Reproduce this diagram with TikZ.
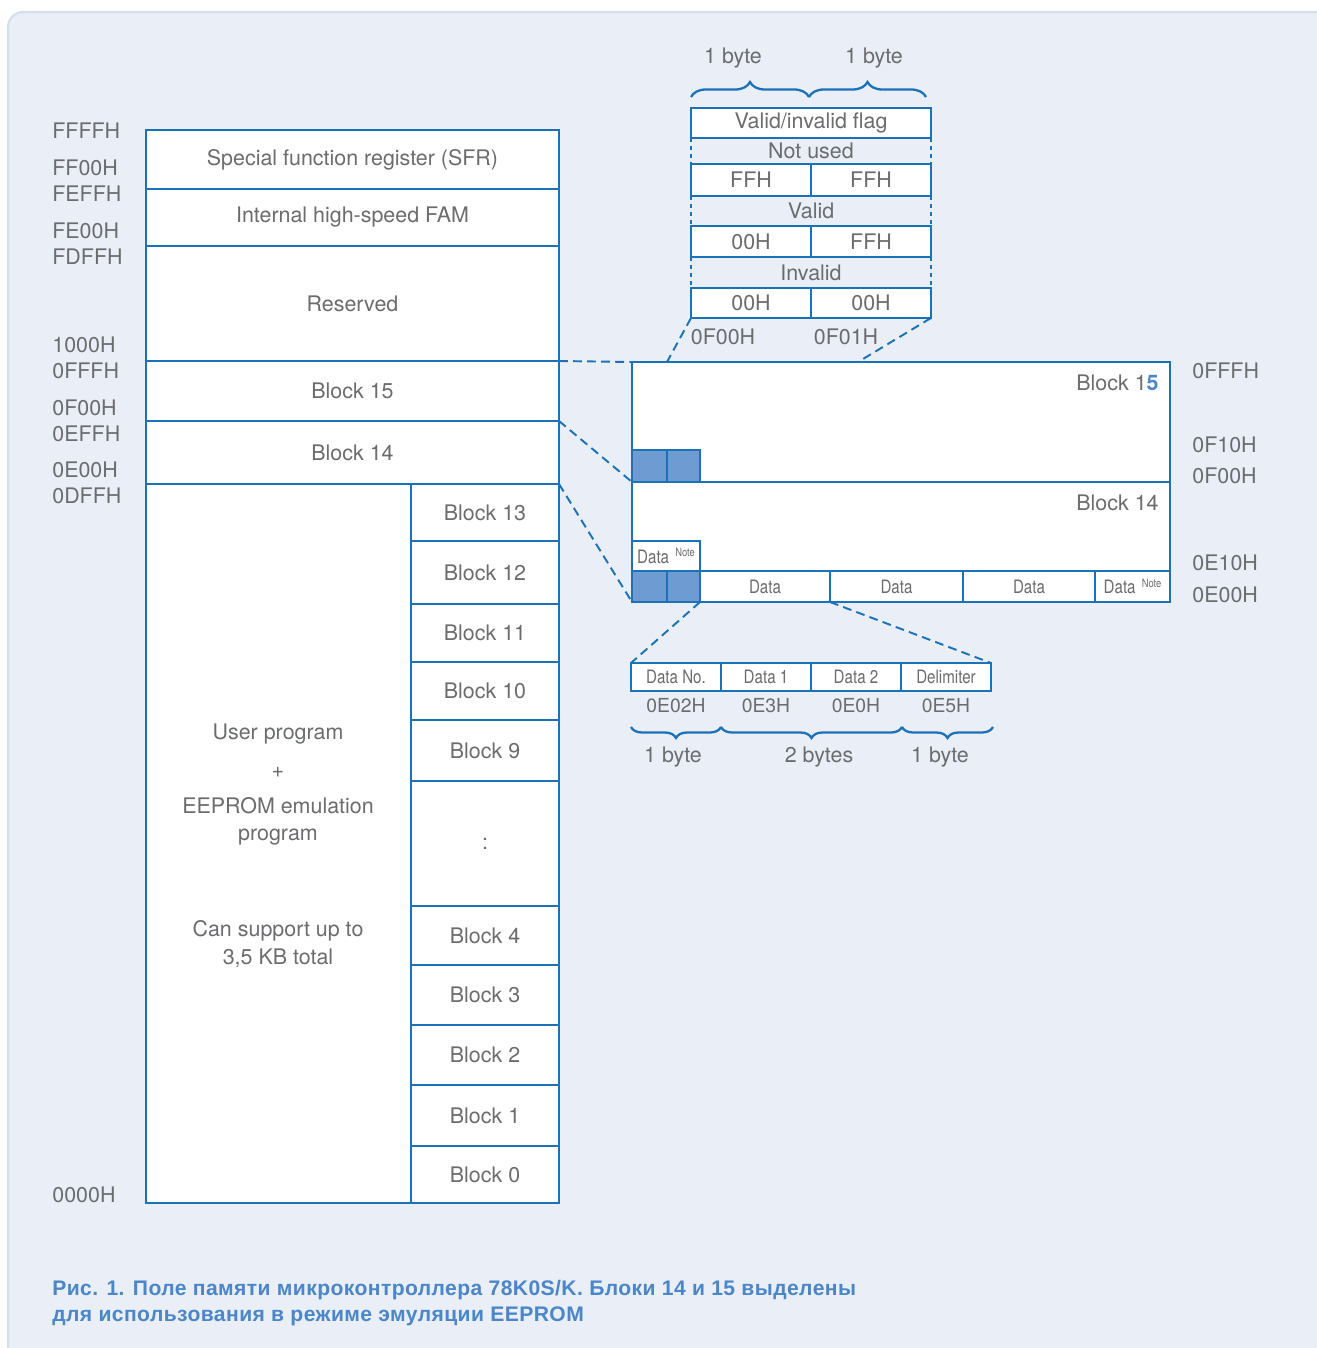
\documentclass[tikz,border=0pt]{standalone}
\usepackage{fontspec}
\setmainfont{TeX Gyre Heros}
\newfontfamily\capfont[LetterSpace=2]{Liberation Sans}
\newfontfamily\narrowfont[FakeStretch=0.82]{TeX Gyre Heros}
\usepackage{tikz}
\usetikzlibrary{decorations.pathreplacing,calc}
\definecolor{lineblue}{HTML}{1B72B8}
\definecolor{txtgray}{HTML}{6B6C6E}
\definecolor{panelbg}{HTML}{E9EEF7}
\definecolor{panelrim}{HTML}{D5DFF0}
\definecolor{shade}{HTML}{6E9BD2}
\definecolor{capblue}{HTML}{4A86C8}
\newcommand{\mainsize}{\fontsize{12.2}{14}\selectfont}
\newcommand{\smallsize}{\narrowfont\fontsize{10.5}{12}\selectfont}
\newcommand{\notetxt}{\raisebox{0.7ex}{\narrowfont\fontsize{6.5}{7}\selectfont Note}}
\tikzstyle{cell} = [draw=lineblue, fill=white, line width=1.1pt, inner sep=0pt, outer sep=0pt, anchor=north west, text=txtgray, font=\mainsize]
\tikzstyle{shaded} = [cell, fill=shade]
\tikzstyle{addr} = [text=txtgray, font=\mainsize, inner sep=0pt, anchor=west]
\tikzstyle{txt} = [text=txtgray, font=\mainsize, inner sep=0pt]
\tikzstyle{zoomline} = [draw=lineblue, line width=1.1pt, dash pattern=on 5pt off 3pt]
\tikzstyle{sideline} = [draw=lineblue, line width=1.1pt, dash pattern=on 2.5pt off 2pt]
\tikzstyle{bytebrace} = [draw=lineblue, line width=1.3pt, decorate, decoration={brace, amplitude=0.3cm}]
\tikzset{sz/.style 2 args={minimum width=#1*0.02cm, minimum height=#2*0.02cm}}
\begin{document}
\begin{tikzpicture}[x=0.02cm, y=-0.02cm]
\useasboundingbox (0,0) rectangle (1317,1348);
\fill[panelbg, draw=panelrim, line width=1.2pt, rounded corners=0.3cm] (8,12) rectangle (1345,1375);

% memory map
\node[cell, sz={413}{59}] (sfr) at (146,130) {Special function register (SFR)};
\node[cell, sz={413}{57}] (fam) at (146,189) {Internal high-speed FAM};
\node[cell, sz={413}{115}] (resv) at (146,246) {Reserved};
\node[cell, sz={413}{60}] (blk15) at (146,361) {Block 15};
\node[cell, sz={413}{63}] (blk14) at (146,421) {Block 14};
\node[cell, sz={265}{719}] (user) at (146,484) {};
\node[cell, sz={148}{57}] (b13) at (411,484) {Block 13};
\node[cell, sz={148}{63}] (b12) at (411,541) {Block 12};
\node[cell, sz={148}{58}] (b11) at (411,604) {Block 11};
\node[cell, sz={148}{58}] (b10) at (411,662) {Block 10};
\node[cell, sz={148}{61}] (b9) at (411,720) {Block 9};
\node[cell, sz={148}{125}] (bdots) at (411,781) {:};
\node[cell, sz={148}{59}] (b4) at (411,906) {Block 4};
\node[cell, sz={148}{60}] (b3) at (411,965) {Block 3};
\node[cell, sz={148}{60}] (b2) at (411,1025) {Block 2};
\node[cell, sz={148}{61}] (b1) at (411,1085) {Block 1};
\node[cell, sz={148}{57}] (b0) at (411,1146) {Block 0};
\node[txt] (usr) at (278,734) {User program};
\node[txt] (plus) at (278,772) {+};
\node[txt, align=center, font=\fontsize{12.2}{15.5}\selectfont] (emu) at (278,821) {EEPROM emulation\\program};
\node[txt, align=center, font=\fontsize{12.2}{15.5}\selectfont] (supp) at (278,944) {Can support up to\\3,5 KB total};

\node[addr] (aFFFF) at (52,131) {FFFFH};
\node[addr] (aFF00) at (52,168) {FF00H};
\node[addr] (aFEFF) at (52,194) {FEFFH};
\node[addr] (aFE00) at (52,231) {FE00H};
\node[addr] (aFDFF) at (52,257) {FDFFH};
\node[addr] (a1000) at (52,345) {1000H};
\node[addr] (a0FFF) at (52,371) {0FFFH};
\node[addr] (a0F00) at (52,408) {0F00H};
\node[addr] (a0EFF) at (52,434) {0EFFH};
\node[addr] (a0E00) at (52,470) {0E00H};
\node[addr] (a0DFF) at (52,496) {0DFFH};
\node[addr] (a0000) at (52,1195) {0000H};

% blocks 14 and 15 in detail
\node[cell, sz={538}{120}] (det15) at (632,362) {};
\node[cell, sz={538}{120}] (det14) at (632,482) {};
\node[txt, anchor=east] (t15) at (1159,383) {Block 1\textcolor{capblue}{\bfseries 5}};
\node[txt, anchor=east] (t14) at (1159,503) {Block 14};
\node[shaded, sz={35}{32}] (s15a) at (632,450) {};
\node[shaded, sz={33}{32}] (s15b) at (667,450) {};
\node[cell, sz={68}{30}, font=\smallsize, align=left] (dnote) at (632,541) {Data\,\,\notetxt};
\node[shaded, sz={35}{31}] (s14a) at (632,571) {};
\node[shaded, sz={33}{31}] (s14b) at (667,571) {};
\node[cell, sz={130}{31}, font=\smallsize] (d1) at (700,571) {Data};
\node[cell, sz={133}{31}, font=\smallsize] (d2) at (830,571) {Data};
\node[cell, sz={132}{31}, font=\smallsize] (d3) at (963,571) {Data};
\node[cell, sz={75}{31}, font=\smallsize] (d4) at (1095,571) {Data\,\,\notetxt};
\node[addr] (r0FFF) at (1192,371) {0FFFH};
\node[addr] (r0F10) at (1192,445) {0F10H};
\node[addr] (r0F00) at (1192,476) {0F00H};
\node[addr] (r0E10) at (1192,563) {0E10H};
\node[addr] (r0E00) at (1192,595) {0E00H};

% valid/invalid flag
\node[cell, sz={240}{30}] (flag) at (691,108) {Valid/invalid flag};
\node[txt] (nused) at (811,151) {Not used};
\node[cell, sz={120}{32}] (ff1) at (691,164) {FFH};
\node[cell, sz={120}{32}] (ff2) at (811,164) {FFH};
\node[txt] (valid) at (811,211) {Valid};
\node[cell, sz={120}{31}] (v1) at (691,226) {00H};
\node[cell, sz={120}{31}] (v2) at (811,226) {FFH};
\node[txt] (invalid) at (811,273) {Invalid};
\node[cell, sz={120}{30}] (i1) at (691,288) {00H};
\node[cell, sz={120}{30}] (i2) at (811,288) {00H};
\draw[sideline] (flag.south west) -- (ff1.north west);
\draw[sideline] (flag.south east) -- (ff2.north east);
\draw[sideline] (ff1.south west) -- (v1.north west);
\draw[sideline] (ff2.south east) -- (v2.north east);
\draw[sideline] (v1.south west) -- (i1.north west);
\draw[sideline] (v2.south east) -- (i2.north east);
\node[txt] (f0F00) at (723,337) {0F00H};
\node[txt] (f0F01) at (846,337) {0F01H};
\draw[bytebrace] (691,97) -- (809,97);
\draw[bytebrace] (809,97) -- (926,97);
\node[txt] (by1) at (733,58) {1 byte};
\node[txt] (by2) at (874,58) {1 byte};

% data record
\node[cell, sz={90}{28}, font=\smallsize] (dno) at (631,663) {Data No.};
\node[cell, sz={90}{28}, font=\smallsize] (dat1) at (721,663) {Data 1};
\node[cell, sz={90}{28}, font=\smallsize] (dat2) at (811,663) {Data 2};
\node[cell, sz={90}{28}, font=\smallsize] (dlim) at (901,663) {Delimiter};
\node[txt, font=\fontsize{11}{12}\selectfont] (e02) at (676,706) {0E02H};
\node[txt, font=\fontsize{11}{12}\selectfont] (e3) at (766,706) {0E3H};
\node[txt, font=\fontsize{11}{12}\selectfont] (e0) at (856,706) {0E0H};
\node[txt, font=\fontsize{11}{12}\selectfont] (e5) at (946,706) {0E5H};
\draw[bytebrace, decoration={mirror, amplitude=0.22cm}] (631,727) -- (721,727);
\draw[bytebrace, decoration={mirror, amplitude=0.22cm}] (721,727) -- (902,727);
\draw[bytebrace, decoration={mirror, amplitude=0.22cm}] (902,727) -- (993,727);
\node[txt] (nb1) at (673,757) {1 byte};
\node[txt] (nb2) at (819,757) {2 bytes};
\node[txt] (nb3) at (940,757) {1 byte};

% zoom lines
\coordinate (f15) at (858,362);
\draw[zoomline] (blk15.north east) -- (det15.north west);
\draw[zoomline] (blk14.north east) -- (det14.north west);
\draw[zoomline] (blk14.south east) -- (det14.south west);
\draw[zoomline] (i1.south west) -- (s15a.east |- det15.north);
\draw[zoomline] (i2.south east) -- (f15);
\draw[zoomline] (s14b.south east) -- (dno.north west);
\draw[zoomline] (d1.south east) -- (dlim.north east);

% caption
\node[anchor=base west, inner sep=0pt, text=capblue, font=\capfont\bfseries\fontsize{12}{13}\selectfont] (cap1) at (52,1295) {Рис. 1. Поле памяти микроконтроллера 78K0S/K. Блоки 14 и 15 выделены};
\node[anchor=base west, inner sep=0pt, text=capblue, font=\capfont\bfseries\fontsize{12}{13}\selectfont] (cap2) at (52,1321) {для использования в режиме эмуляции EEPROM};
\end{tikzpicture}
\end{document}
